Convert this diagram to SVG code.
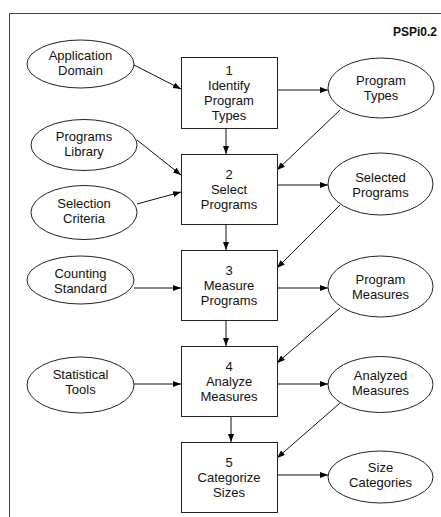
<svg xmlns="http://www.w3.org/2000/svg" width="441" height="517" viewBox="0 0 441 517">
<defs>
<marker id="ah" markerWidth="8" markerHeight="6" refX="8" refY="3" orient="auto" markerUnits="userSpaceOnUse">
<path d="M0,0 L8,3 L0,6 Z" fill="#000"/>
</marker>
<style>
.box{fill:#fff;stroke:#222;stroke-width:1}
.ell{fill:#fff;stroke:#222;stroke-width:1}
text{font-family:"Liberation Sans",Arial,sans-serif;font-size:13px;fill:#111;text-anchor:middle}
.c line{stroke:#111;stroke-width:1;marker-end:url(#ah)}
.title{font-weight:bold;font-size:12px;text-anchor:end}
</style>
</defs>
<rect x="0" y="0" width="441" height="517" fill="#fff"/>
<rect x="9.5" y="13.5" width="440" height="520" fill="none" stroke="#444" stroke-width="1"/>
<text class="title" x="437" y="36">PSPi0.2</text>

<g class="c" id="connectors">
<line x1="134" y1="65" x2="181" y2="89"/>
<line x1="277" y1="90" x2="328" y2="90"/>
<line x1="226" y1="128" x2="226" y2="154"/>
<line x1="340" y1="110" x2="277" y2="170"/>
<line x1="137" y1="140" x2="181" y2="175"/>
<line x1="137" y1="204" x2="181" y2="192"/>
<line x1="277" y1="185" x2="328" y2="185"/>
<line x1="226" y1="224" x2="226" y2="250"/>
<line x1="340" y1="205" x2="277" y2="268"/>
<line x1="134" y1="288" x2="181" y2="288"/>
<line x1="277" y1="288" x2="328" y2="288"/>
<line x1="226" y1="320" x2="226" y2="346"/>
<line x1="340" y1="308" x2="277" y2="363"/>
<line x1="134" y1="384" x2="181" y2="384"/>
<line x1="277" y1="384" x2="328" y2="384"/>
<line x1="231" y1="416" x2="231" y2="442"/>
<line x1="340" y1="403" x2="277" y2="458"/>
<line x1="277" y1="475" x2="328" y2="475"/>
</g>

<g id="n1"><rect class="box" x="181.5" y="57.5" width="96" height="71"/>
<text x="229" y="75">1</text><text x="229" y="90">Identify</text><text x="229" y="105">Program</text><text x="229" y="120">Types</text></g>
<g id="n2"><rect class="box" x="181.5" y="154.5" width="96" height="70"/>
<text x="229" y="179">2</text><text x="229" y="194">Select</text><text x="229" y="209">Programs</text></g>
<g id="n3"><rect class="box" x="181.5" y="250.5" width="96" height="70"/>
<text x="229" y="275">3</text><text x="229" y="290">Measure</text><text x="229" y="305">Programs</text></g>
<g id="n4"><rect class="box" x="181.5" y="346.5" width="96" height="70"/>
<text x="229" y="371">4</text><text x="229" y="386">Analyze</text><text x="229" y="401">Measures</text></g>
<g id="n5"><rect class="box" x="181.5" y="442.5" width="96" height="70"/>
<text x="229" y="467">5</text><text x="229" y="482">Categorize</text><text x="229" y="497">Sizes</text></g>

<g id="appdomain"><ellipse class="ell" cx="80.5" cy="64" rx="53.5" ry="24"/>
<text x="80.5" y="60">Application</text><text x="80.5" y="75">Domain</text></g>
<g id="proglib"><ellipse class="ell" cx="84" cy="145" rx="53" ry="25.5"/>
<text x="84" y="141">Programs</text><text x="84" y="156">Library</text></g>
<g id="selcrit"><ellipse class="ell" cx="84" cy="212.5" rx="53" ry="27"/>
<text x="84" y="208">Selection</text><text x="84" y="223">Criteria</text></g>
<g id="countstd"><ellipse class="ell" cx="80.5" cy="280" rx="53.5" ry="24"/>
<text x="80.5" y="278">Counting</text><text x="80.5" y="293">Standard</text></g>
<g id="stattools"><ellipse class="ell" cx="80.5" cy="385" rx="53.5" ry="28"/>
<text x="80.5" y="379">Statistical</text><text x="80.5" y="394">Tools</text></g>

<g id="progtypes"><ellipse class="ell" cx="381" cy="88" rx="53" ry="30"/>
<text x="381" y="85">Program</text><text x="381" y="100">Types</text></g>
<g id="selprogs"><ellipse class="ell" cx="380.5" cy="184" rx="52.5" ry="31"/>
<text x="380.5" y="182">Selected</text><text x="380.5" y="197">Programs</text></g>
<g id="progmeas"><ellipse class="ell" cx="380.5" cy="286.5" rx="52.5" ry="30.5"/>
<text x="380.5" y="284">Program</text><text x="380.5" y="299">Measures</text></g>
<g id="anameas"><ellipse class="ell" cx="380.5" cy="384.5" rx="52.5" ry="28"/>
<text x="380.5" y="380">Analyzed</text><text x="380.5" y="395">Measures</text></g>
<g id="sizecat"><ellipse class="ell" cx="380.5" cy="477" rx="52.5" ry="26"/>
<text x="380.5" y="472">Size</text><text x="380.5" y="487">Categories</text></g>
</svg>
